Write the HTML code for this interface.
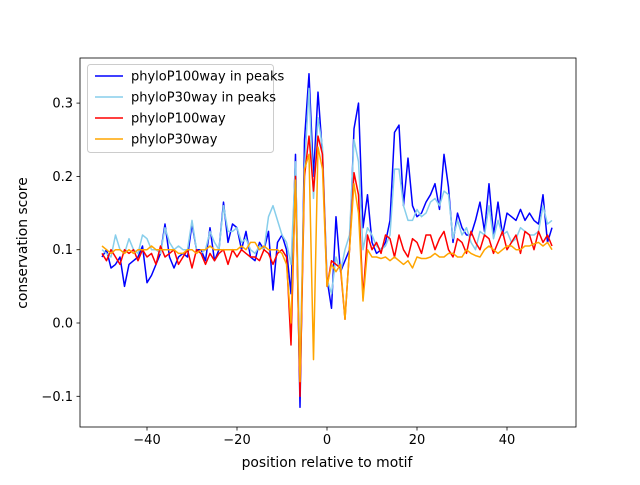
<!DOCTYPE html>
<html><head><meta charset="utf-8"><style>
body{margin:0;background:#fff}
text{font-family:"DejaVu Sans","Liberation Sans",sans-serif;}
</style></head><body>
<svg id="chart" width="640" height="480" xmlns="http://www.w3.org/2000/svg"></svg>
<script>
const positions = []; for (let i = -50; i <= 50; i++) positions.push(i);
const xTicks = [-40, -20, 0, 20, 40];
const yTicks = [-0.1, 0.0, 0.1, 0.2, 0.3];
const seriesNames = ["phyloP100way in peaks", "phyloP30way in peaks", "phyloP100way", "phyloP30way"];
const seriesColors = ["#0000ff", "#87ceeb", "#ff0000", "#ffa500"];
const blue = [0.09,0.10,0.075,0.08,0.09,0.05,0.08,0.085,0.09,0.105,0.055,0.065,0.08,0.095,0.135,0.09,0.075,0.09,0.095,0.09,0.135,0.10,0.10,0.085,0.13,0.085,0.10,0.165,0.11,0.135,0.13,0.10,0.125,0.09,0.085,0.11,0.10,0.125,0.045,0.11,0.12,0.10,0.04,0.23,-0.115,0.25,0.34,0.20,0.315,0.23,0.06,0.02,0.145,0.07,0.085,0.10,0.265,0.30,0.13,0.175,0.11,0.095,0.10,0.11,0.14,0.26,0.27,0.16,0.225,0.16,0.145,0.15,0.165,0.175,0.19,0.155,0.23,0.185,0.11,0.15,0.13,0.12,0.12,0.14,0.165,0.125,0.19,0.12,0.165,0.12,0.15,0.145,0.14,0.155,0.14,0.15,0.14,0.135,0.175,0.11,0.13];
const lightBlue = [0.10,0.095,0.09,0.12,0.10,0.095,0.115,0.10,0.095,0.12,0.115,0.10,0.10,0.095,0.13,0.11,0.10,0.105,0.10,0.10,0.14,0.10,0.095,0.10,0.125,0.11,0.10,0.16,0.125,0.125,0.13,0.11,0.115,0.10,0.095,0.105,0.10,0.145,0.16,0.14,0.12,0.11,0.08,0.22,-0.06,0.21,0.32,0.17,0.28,0.24,0.06,0.04,0.09,0.07,0.10,0.12,0.25,0.22,0.10,0.13,0.12,0.105,0.10,0.105,0.12,0.21,0.21,0.16,0.14,0.14,0.155,0.145,0.15,0.165,0.17,0.16,0.18,0.175,0.115,0.14,0.12,0.13,0.11,0.10,0.125,0.12,0.16,0.115,0.14,0.12,0.125,0.11,0.115,0.13,0.125,0.12,0.12,0.125,0.16,0.135,0.14];
const red = [0.095,0.085,0.10,0.09,0.08,0.10,0.095,0.10,0.085,0.10,0.09,0.095,0.08,0.105,0.09,0.095,0.10,0.08,0.09,0.10,0.075,0.10,0.095,0.08,0.095,0.085,0.095,0.10,0.08,0.10,0.09,0.10,0.095,0.09,0.09,0.085,0.10,0.095,0.08,0.095,0.10,0.09,-0.03,0.20,-0.10,0.20,0.255,0.18,0.255,0.23,0.05,0.085,0.08,0.075,0.005,0.10,0.205,0.175,0.035,0.12,0.10,0.11,0.095,0.12,0.115,0.09,0.12,0.10,0.09,0.115,0.11,0.095,0.12,0.12,0.10,0.115,0.125,0.10,0.09,0.115,0.11,0.095,0.125,0.11,0.10,0.12,0.115,0.095,0.11,0.125,0.10,0.11,0.12,0.095,0.125,0.12,0.10,0.125,0.11,0.12,0.105];
const orange = [0.105,0.10,0.095,0.10,0.10,0.095,0.10,0.095,0.10,0.10,0.10,0.105,0.10,0.10,0.10,0.10,0.10,0.095,0.095,0.10,0.10,0.095,0.10,0.10,0.105,0.10,0.10,0.10,0.10,0.10,0.10,0.105,0.10,0.11,0.11,0.10,0.105,0.10,0.10,0.10,0.095,0.08,0.0,0.195,-0.08,0.21,0.23,-0.05,0.24,0.21,0.05,0.08,0.07,0.08,0.005,0.10,0.19,0.15,0.03,0.10,0.09,0.09,0.088,0.09,0.085,0.09,0.085,0.08,0.085,0.075,0.09,0.088,0.088,0.09,0.095,0.09,0.09,0.095,0.095,0.09,0.09,0.10,0.095,0.092,0.09,0.10,0.105,0.10,0.095,0.10,0.105,0.105,0.10,0.10,0.105,0.105,0.108,0.11,0.105,0.11,0.10];
const seriesData = [blue, lightBlue, red, orange];

const svg = document.getElementById('chart');
const NS = 'http://www.w3.org/2000/svg';
const L = 80, R = 576, T = 58, B = 427;
const xs = v => 327 + v * 4.5;
const ys = v => 323 - v * 733;
function mk(tag, attrs, parent) { const e = document.createElementNS(NS, tag); for (const k in attrs) e.setAttribute(k, attrs[k]); (parent || svg).appendChild(e); return e; }

for (let s = 0; s < seriesData.length; s++) {
  const d = seriesData[s].map((v, i) => (i ? 'L' : 'M') + xs(positions[i]).toFixed(1) + ',' + ys(v).toFixed(1)).join('');
  const p = mk('path', {d: d, fill: 'none', stroke: seriesColors[s], 'stroke-width': 1.5, 'stroke-linejoin': 'round'});
  
  
}

const frame = mk('rect', {x: L, y: T, width: R - L, height: B - T, fill: 'none', stroke: '#000', 'stroke-width': 0.8});



xTicks.forEach(t => {
  mk('line', {x1: xs(t), x2: xs(t), y1: B, y2: B + 3.5, stroke: '#000', 'stroke-width': 0.8});
  const tx = mk('text', {x: xs(t), y: B + 17, 'font-size': 13, 'text-anchor': 'middle'});
  tx.textContent = t === 0 ? '0' : (t < 0 ? '\u2212' + (-t) : '' + t);
  
  
});
yTicks.forEach(t => {
  mk('line', {x1: L - 3.5, x2: L, y1: ys(t), y2: ys(t), stroke: '#000', 'stroke-width': 0.8});
  const tx = mk('text', {x: L - 7, y: ys(t) + 4.5, 'font-size': 13, 'text-anchor': 'end'});
  tx.textContent = (t < 0 ? '\u2212' : '') + Math.abs(t).toFixed(1);
  
  
});
const xt = mk('text', {x: 327, y: 467, 'font-size': 13.9, 'text-anchor': 'middle'});
xt.textContent = 'position relative to motif';


const yt = mk('text', {x: 27, y: 243, 'font-size': 13.9, 'text-anchor': 'middle', transform: 'rotate(-90 27 243)'});
yt.textContent = 'conservation score';



const lg = mk('g', {});


mk('rect', {x: 87.5, y: 64.5, width: 186, height: 88, rx: 3, fill: '#fff', 'fill-opacity': 0.8, stroke: '#ccc'}, lg);
seriesNames.forEach((n, i) => {
  const y = 76 + i * 21;
  mk('line', {x1: 95, x2: 123, y1: y, y2: y, stroke: seriesColors[i], 'stroke-width': 1.5}, lg);
  const tx = mk('text', {x: 131, y: y + 4.5, 'font-size': 13}, lg);
  tx.textContent = n;
  
  
});
</script>
</body></html>
